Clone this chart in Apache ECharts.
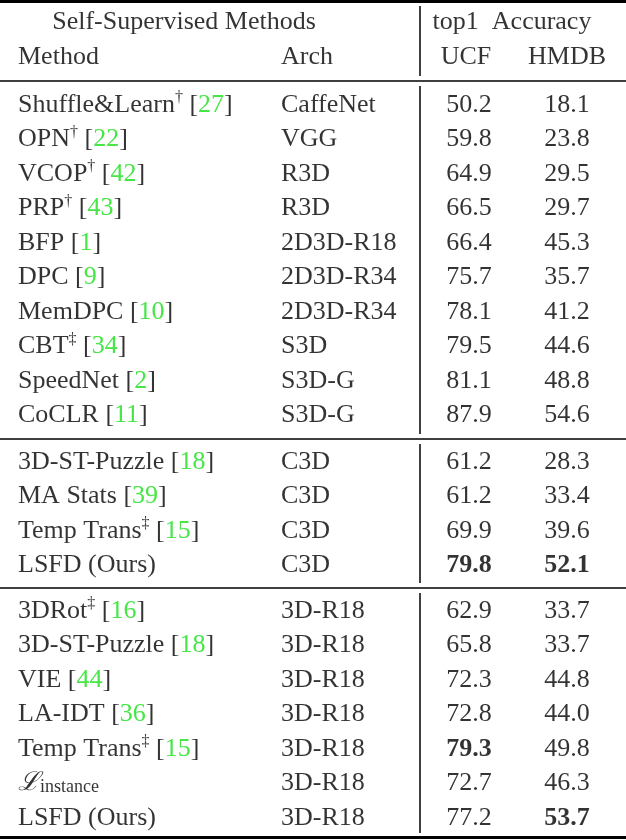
<!DOCTYPE html>
<html>
<head>
<meta charset="utf-8">
<script src="https://cdn.jsdelivr.net/npm/echarts@6/dist/echarts.min.js"></script>
<style>
  html, body { margin: 0; padding: 0; background: #fff; }
  #main { width: 626px; height: 840px; }
</style>
</head>
<body>
<div id="main"></div>
<script>
// table content
const methods = ['Shuffle&Learn', 'OPN', 'VCOP', 'PRP', 'BFP', 'DPC', 'MemDPC', 'CBT', 'SpeedNet', 'CoCLR',
  '3D-ST-Puzzle', 'MA Stats', 'Temp Trans', 'LSFD (Ours)',
  '3DRot', '3D-ST-Puzzle', 'VIE', 'LA-IDT', 'Temp Trans', 'L_instance', 'LSFD (Ours)'];
const marks = ['†', '†', '†', '†', '', '', '', '‡', '', '',
  '', '', '‡', '',
  '‡', '', '', '', '‡', '', ''];
const refs = ['27', '22', '42', '43', '1', '9', '10', '34', '2', '11',
  '18', '39', '15', '',
  '16', '18', '44', '36', '15', '', ''];
const archs = ['CaffeNet', 'VGG', 'R3D', 'R3D', '2D3D-R18', '2D3D-R34', '2D3D-R34', 'S3D', 'S3D-G', 'S3D-G',
  'C3D', 'C3D', 'C3D', 'C3D',
  '3D-R18', '3D-R18', '3D-R18', '3D-R18', '3D-R18', '3D-R18', '3D-R18'];
const ucf = ['50.2', '59.8', '64.9', '66.5', '66.4', '75.7', '78.1', '79.5', '81.1', '87.9',
  '61.2', '61.2', '69.9', '79.8',
  '62.9', '65.8', '72.3', '72.8', '79.3', '72.7', '77.2'];
const hmdb = ['18.1', '23.8', '29.5', '29.7', '45.3', '35.7', '41.2', '44.6', '48.8', '54.6',
  '28.3', '33.4', '39.6', '52.1',
  '33.7', '33.7', '44.8', '44.0', '49.8', '46.3', '53.7'];
const ucfBold = [13, 18];
const hmdbBold = [13, 20];
const sectionSizes = [10, 4, 7];

// row positions
const rowY = [];
const sectionStart = [105, 462, 611];
const rowStep = 34.5;
sectionSizes.forEach((n, s) => {
  for (let i = 0; i < n; i++) rowY.push(sectionStart[s] + i * rowStep);
});

const FONT = '"Liberation Serif", "DejaVu Serif", serif';
const FS = 26;
const rich = {
  t: { fontFamily: FONT, fontSize: FS, color: '#000' },
  g: { fontFamily: FONT, fontSize: FS, color: '#18e018' },
  sup: { fontFamily: FONT, fontSize: 16, color: '#000', verticalAlign: 'top', lineHeight: 30 },
  sub: { fontFamily: FONT, fontSize: 18, color: '#000', verticalAlign: 'bottom', lineHeight: 22, padding: [12, 0, 0, 0] },
  cal: { fontFamily: '"DejaVu Serif", serif', fontStyle: 'italic', fontSize: FS, color: '#000' },
  b: { fontFamily: FONT, fontSize: FS, fontWeight: 'bold', color: '#000' }
};

function methodText(i) {
  if (methods[i] === 'L_instance') return '{cal|ℒ}{sub|instance}';
  let s = '{t|' + methods[i] + '}';
  if (marks[i]) s += '{sup|' + marks[i] + '}';
  if (refs[i]) s += '{t| [}{g|' + refs[i] + '}{t|]}';
  return s;
}

const cells = [];
function cell(x, y, text, align) {
  cells.push({ value: [x, y], label: { formatter: text, align: align } });
}
cell(184, 22, '{t|Self-Supervised Methods}', 'center');
cell(512, 22, '{t|top1  Accuracy}', 'center');
cell(18, 57, '{t|Method}', 'left');
cell(281, 57, '{t|Arch}', 'left');
cell(466, 57, '{t|UCF}', 'center');
cell(567, 57, '{t|HMDB}', 'center');
methods.forEach((m, i) => {
  const y = rowY[i];
  cell(18, y, methodText(i), 'left');
  cell(281, y, '{t|' + archs[i] + '}', 'left');
  cell(469, y, (ucfBold.includes(i) ? '{b|' : '{t|') + ucf[i] + '}', 'center');
  cell(567, y, (hmdbBold.includes(i) ? '{b|' : '{t|') + hmdb[i] + '}', 'center');
});

// rules: x1, y1, x2, y2, width
const rules = [
  [0, 1.5, 626, 1.5, 3],
  [0, 81, 626, 81, 1.5],
  [0, 439, 626, 439, 1.5],
  [0, 588, 626, 588, 1.5],
  [0, 837.5, 626, 837.5, 3],
  [420, 6, 420, 76, 1.5],
  [420, 86, 420, 434, 1.5],
  [420, 444, 420, 583, 1.5],
  [420, 593, 420, 833, 1.5]
];

const chart = echarts.init(document.getElementById('main'));
chart.setOption({
  animation: false,
  grid: { left: 0, right: 0, top: 0, bottom: 0 },
  xAxis: { type: 'value', min: 0, max: 626, show: false },
  yAxis: { type: 'value', min: 0, max: 840, inverse: true, show: false },
  series: [{
    type: 'custom',
    data: rules,
    renderItem: function (params, api) {
      const p1 = api.coord([api.value(0), api.value(1)]);
      const p2 = api.coord([api.value(2), api.value(3)]);
      return {
        type: 'line',
        shape: { x1: p1[0], y1: p1[1], x2: p2[0], y2: p2[1] },
        style: { stroke: '#000', lineWidth: api.value(4) }
      };
    }
  }, {
    type: 'scatter',
    symbolSize: 0,
    data: cells,
    label: {
      show: true,
      position: 'inside',
      verticalAlign: 'middle',
      color: '#000',
      rich: rich
    }
  }]
});
</script>
</body>
</html>
